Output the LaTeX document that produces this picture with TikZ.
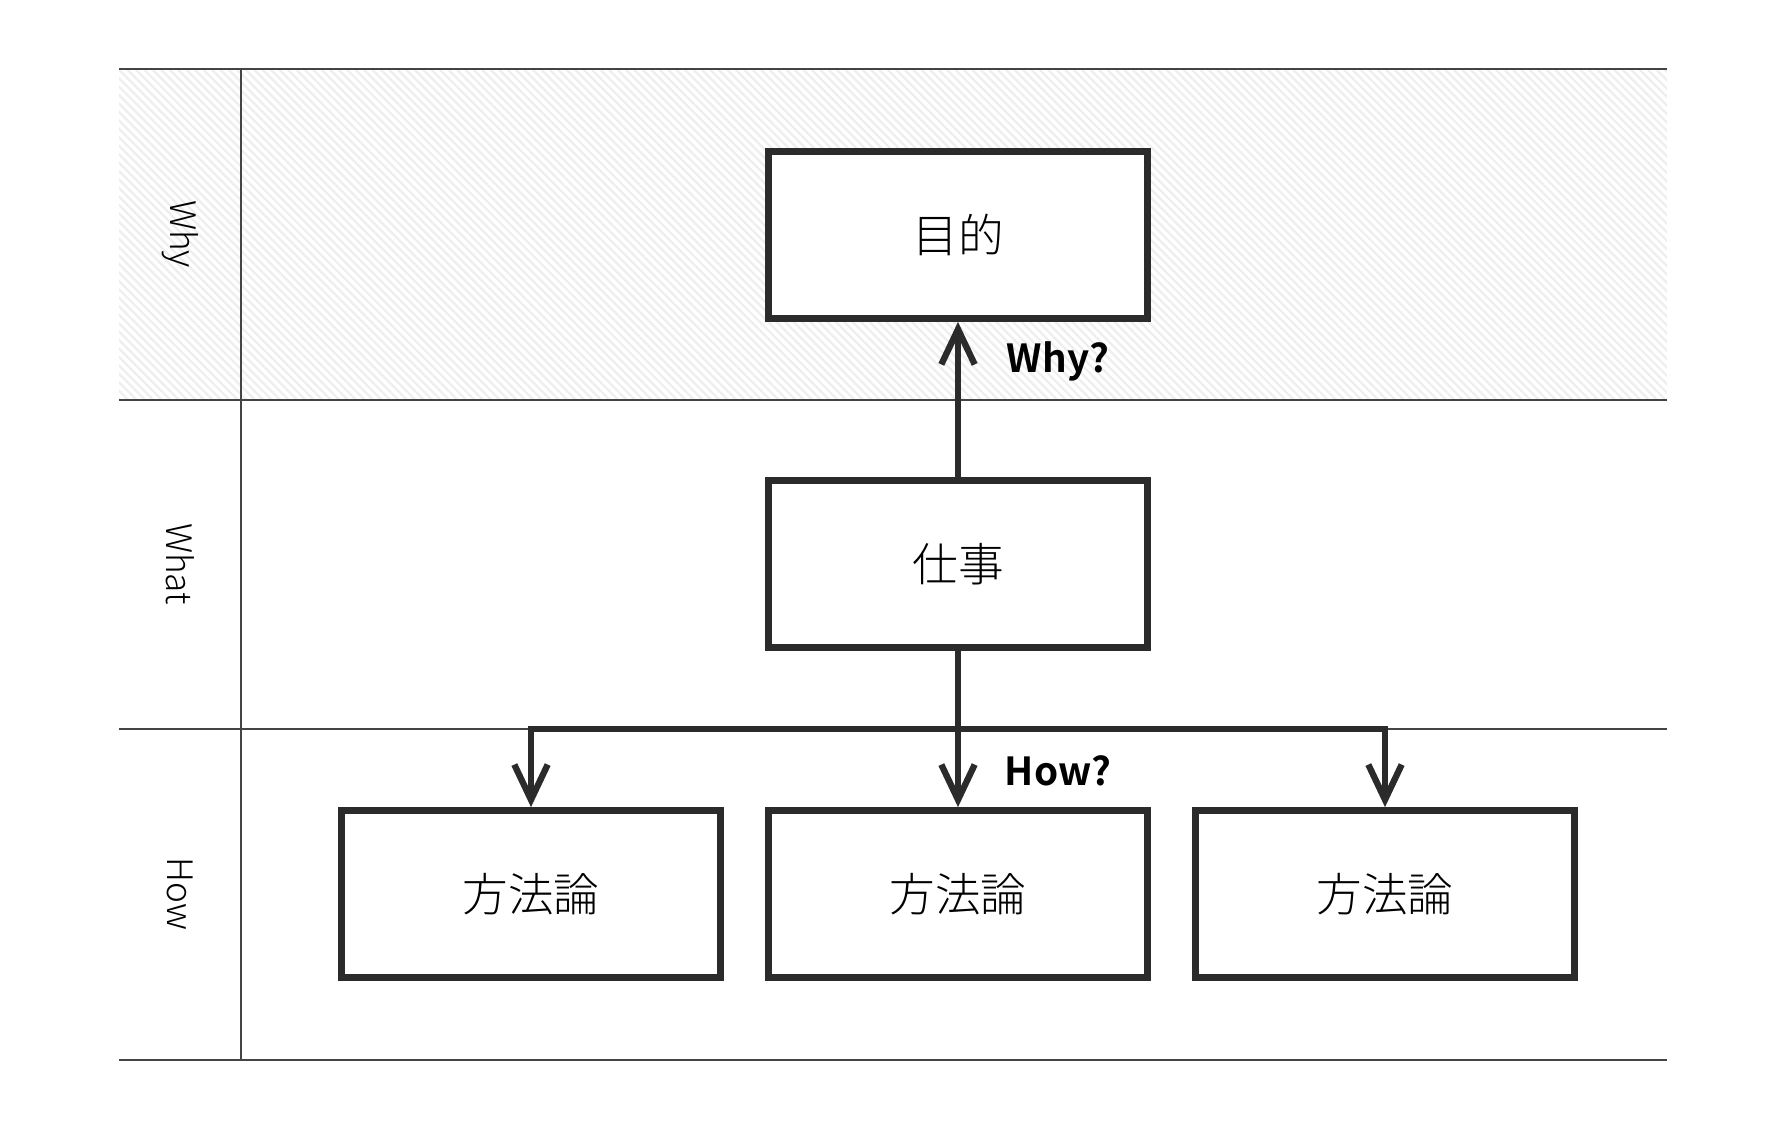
\documentclass[tikz,border=0pt]{standalone}
\usepackage{fontspec}
\setmainfont{Noto Sans CJK JP}[UprightFont=* Light, BoldFont=* Bold]
\usetikzlibrary{arrows.meta,patterns.meta}

\definecolor{boxgray}{HTML}{2B2B2B}
\definecolor{lanegray}{HTML}{444444}
\definecolor{hatchgray}{HTML}{EEEEEE}

\tikzset{
  box/.style={draw=boxgray, fill=white, line width=3.9pt, minimum width=7.58cm, minimum height=3.34cm, inner sep=0pt, font=\fontsize{26}{30}\selectfont},
  lane/.style={draw=lanegray, line width=1.1pt},
  lanelabel/.style={rotate=-90, font=\fontsize{20}{24}\selectfont},
  flow/.style={draw=boxgray, line width=3.6pt, -{Straight Barb[length=20pt,width=19pt]}},
  ask/.style={font=\fontsize{22}{26}\selectfont\bfseries}
}

\begin{document}
\begin{tikzpicture}[x=0.02cm, y=-0.02cm]
\useasboundingbox (0,0) rectangle (1781,1125);
% swimlanes
\fill[pattern={Lines[angle=-45,distance=3.4pt,line width=1.3pt]}, pattern color=hatchgray] (119,69) rectangle (1667,400);
\foreach \y in {69,400,729,1060}
    \draw[lane] (119,\y) -- (1667,\y);
\draw[lane] (241,69) -- (241,1060);
\node[lanelabel] (laneWhy) at (180,234) {Why};
\node[lanelabel] (laneWhat) at (180,564) {What};
\node[lanelabel] (laneHow) at (180,894) {How};
% boxes
\node[box] (goal) at (958,235) {目的};
\node[box] (work) at (958,564) {仕事};
\node[box] (method1) at (531,894) {方法論};
\node[box] (method2) at (958,894) {方法論};
\node[box] (method3) at (1385,894) {方法論};
% arrows
\coordinate (split) at (958,729);
\draw[flow] (work) -- (goal);
\draw[flow] (work) -- (method2);
\draw[flow] (split) -| (method1.north);
\draw[flow] (split) -| (method3.north);
\node[ask] (why) at (1058,361) {Why?};
\node[ask] (how) at (1058,771) {How?};
\end{tikzpicture}
\end{document}
